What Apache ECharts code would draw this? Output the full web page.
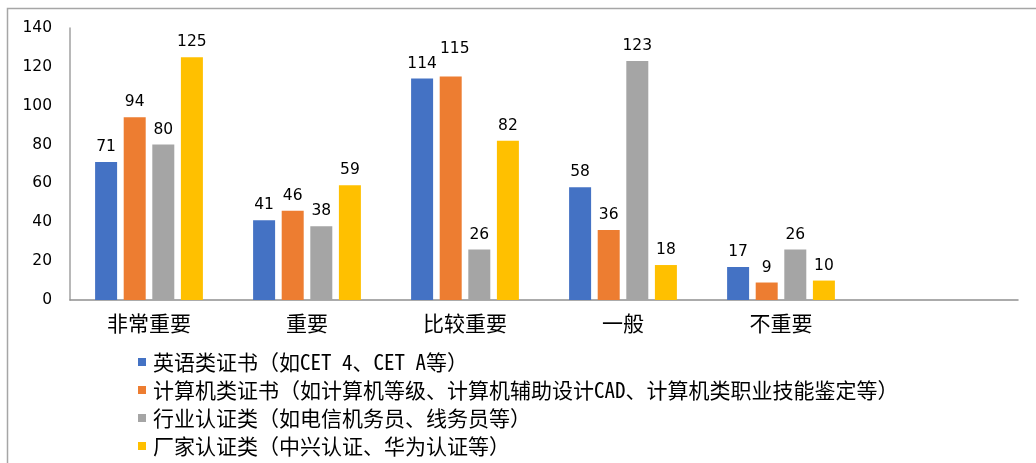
<!DOCTYPE html>
<html>
<head>
<meta charset="utf-8">
<script src="https://cdn.jsdelivr.net/npm/echarts@6/dist/echarts.min.js"></script>
<style>
  html, body { margin: 0; padding: 0; background: #fff; }
  #chart { width: 1036px; height: 463px; }
</style>
</head>
<body>
<div id="chart"></div>
<script>
// categories (last slot is empty in the original)
const categories = ['非常重要', '重要', '比较重要', '一般', '不重要', '']
const seriesNames = [
  '英语类证书（如CET 4、CET A等）',
  '计算机类证书（如计算机等级、计算机辅助设计CAD、计算机类职业技能鉴定等）',
  '行业认证类（如电信机务员、线务员等）',
  '厂家认证类（中兴认证、华为认证等）'
]
const english = [71, 41, 114, 58, 17]
const computer = [94, 46, 115, 36, 9]
const industry = [80, 38, 26, 123, 26]
const vendor = [125, 59, 82, 18, 10]
const yTicks = [0, 20, 40, 60, 80, 100, 120, 140]

const colors = ['#4472C4', '#ED7D31', '#A5A5A5', '#FFC000']
const cjkFont = '"Noto Sans Mono CJK SC", "Noto Sans CJK SC", sans-serif'
const numFont = '"DejaVu Sans", sans-serif'

const chart = echarts.init(document.getElementById('chart'))

function bar(name, data) {
  return {
    name: name,
    type: 'bar',
    data: data,
    barWidth: 22,
    barGap: '30%',
    label: {
      show: true,
      position: 'top',
      distance: 7,
      color: '#000',
      fontSize: 15.5,
      fontFamily: numFont
    }
  }
}

const series = [
  bar(seriesNames[0], english),
  bar(seriesNames[1], computer),
  bar(seriesNames[2], industry),
  bar(seriesNames[3], vendor)
]
// the "115" label sits higher so it doesn't collide with "114"
series[1].data = computer.map((v, i) => i === 2 ? { value: v, label: { offset: [4, -13] } } : v)

chart.setOption({
  animation: false,
  color: colors,
  graphic: [{
    type: 'rect',
    shape: { x: 7.5, y: 8.5, width: 1040, height: 470 },
    style: { fill: 'none', stroke: '#a6a6a6', lineWidth: 1.5 },
    silent: true
  }],
  grid: { left: 70, right: 18, top: 28, bottom: 163 },
  legend: {
    orient: 'vertical',
    left: 138,
    top: 351,
    padding: 0,
    itemWidth: 8,
    itemHeight: 8,
    itemGap: 6,
    icon: 'rect',
    textStyle: { fontSize: 21, color: '#000', fontFamily: cjkFont, lineHeight: 22, padding: [0, 0, 0, 2] },
    data: seriesNames
  },
  xAxis: {
    type: 'category',
    data: categories,
    axisLine: { lineStyle: { color: '#909090', width: 1.5 } },
    axisTick: { show: false },
    axisLabel: { color: '#000', fontSize: 21, margin: 13, fontFamily: cjkFont }
  },
  yAxis: {
    type: 'value',
    min: yTicks[0],
    max: yTicks[yTicks.length - 1],
    interval: 20,
    axisLine: { show: true, lineStyle: { color: '#a0a0a0', width: 1.5 } },
    axisTick: { show: false },
    splitLine: { show: false },
    axisLabel: { color: '#000', fontSize: 15.5, margin: 18, fontFamily: numFont }
  },
  series: series
})
</script>
</body>
</html>
